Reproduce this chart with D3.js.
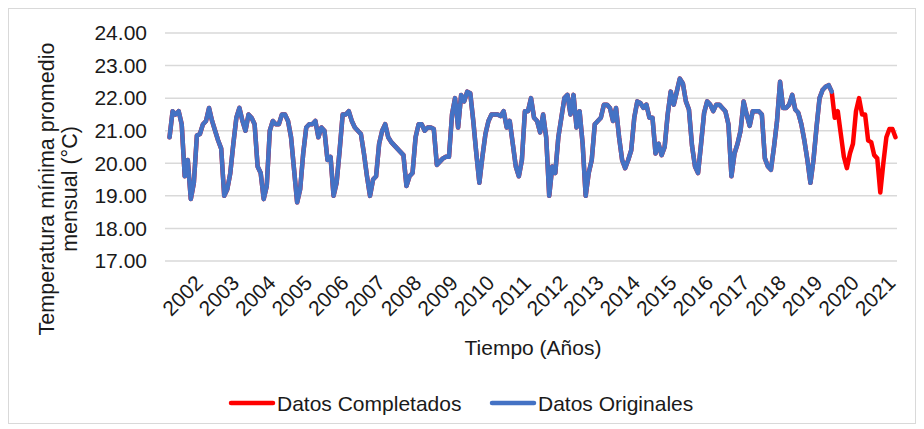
<!DOCTYPE html>
<html lang="es">
<head>
  <meta charset="UTF-8">
  <title>Temperatura mínima promedio mensual</title>
  <script src="https://d3js.org/d3.v7.min.js"></script>
  <style>
    body, html {
      margin: 0;
      padding: 0;
      background-color: #fff;
      overflow: hidden;
    }
    svg text {
      font-family: 'Liberation Sans', Arial, sans-serif;
      fill: #1a1a1a;
    }
    .grid line {
      stroke: #d9d9d9;
      stroke-width: 1.5;
    }
  </style>
</head>
<body>
  <svg class="chart"></svg>

  <script>
    // Monthly values, first one is Feb 2001 (category 0 = Jan 2001 stays empty)
    const datosOriginales = [
      20.8, 21.6, 21.5, 21.6, 21.2, 19.6, 20.1, 18.9, 19.4, 20.85, 20.9, 21.2,
      21.3, 21.7, 21.3, 21.0, 20.7, 20.45, 19.0, 19.2, 19.7, 20.6, 21.4, 21.7,
      21.3, 21.0, 21.5, 21.4, 21.2, 19.9, 19.7, 18.9, 19.3, 21.0, 21.3, 21.2,
      21.2, 21.5, 21.5, 21.3, 20.8, 19.8, 18.8, 19.2, 20.3, 21.1, 21.2, 21.2,
      21.3, 20.8, 21.1, 21.0, 20.1, 20.2, 19.0, 19.4, 20.4, 21.5, 21.5, 21.6,
      21.3, 21.1, 21.0, 20.9, 20.3, 19.6, 19.0, 19.5, 19.6, 20.6, 21.0, 21.2,
      20.8, 20.65, 20.55, 20.45, 20.35, 20.25, 19.3, 19.6, 19.7, 20.8, 21.2, 21.2,
      21.0, 21.1, 21.1, 21.05, 19.95, 20.05, 20.15, 20.2, 20.2, 21.5, 22.0, 21.1,
      22.1, 21.9, 22.2, 22.15, 21.3, 20.3, 19.4, 20.2, 20.9, 21.3, 21.5, 21.5,
      21.5, 21.45, 21.6, 21.1, 21.3, 20.6, 19.9, 19.6, 20.1, 21.6, 21.6, 22.0,
      21.4, 21.3, 20.95, 21.5, 20.8, 19.0, 19.9, 19.7, 20.8, 21.4, 22.0, 22.1,
      21.5, 22.1, 21.1, 21.6, 20.6, 19.0, 19.7, 20.1, 21.2, 21.3, 21.4, 21.8,
      21.8, 21.7, 21.3, 21.7, 20.8, 20.1, 19.85, 20.1, 20.4, 21.4, 21.9, 21.85,
      21.7, 21.8, 21.4, 21.4, 20.3, 20.6, 20.25, 20.5, 21.5, 22.2, 21.8, 22.2,
      22.6, 22.45, 21.9, 21.65, 20.55, 19.9, 19.7, 20.6, 21.55, 21.9, 21.8, 21.6,
      21.8, 21.8, 21.7, 21.6, 21.2, 19.6, 20.3, 20.6, 21.0, 21.9, 21.5, 21.15,
      21.6, 21.6, 21.6, 21.5, 20.15, 19.9, 19.8, 20.5, 21.3, 22.5, 21.7, 21.7,
      21.8, 22.1, 21.65, 21.55, 21.2, 20.7, 20.1, 19.4, 20.1, 21.1, 22.0, 22.25,
      22.35, 22.4, 22.2
    ];

    // Filled-in months after the original record ends
    const datosCompletados = [
      21.4, 21.6, 20.9, 20.2, 19.85, 20.3, 20.6, 21.6, 22.0, 21.5, 21.5,
      20.7, 20.65, 20.25, 20.15, 19.1, 20.0, 20.8, 21.05, 21.05, 20.8
    ];

    const yearLabels = ["2002", "2003", "2004", "2005", "2006", "2007", "2008", "2009", "2010", "2011",
                        "2012", "2013", "2014", "2015", "2016", "2017", "2018", "2019", "2020", "2021"];
    const yTicks = [17, 18, 19, 20, 21, 22, 23, 24];

    const width = 924;
    const height = 429;
    const plot = { left: 165, right: 897, top: 33, bottom: 261 };

    const svg = d3.select("svg")
      .attr("width", width)
      .attr("height", height);

    // chart frame
    svg.append("rect")
      .attr("x", 8.5).attr("y", 8.5)
      .attr("width", 907).attr("height", 415)
      .attr("fill", "none")
      .attr("stroke", "#d9d9d9");

    const nCategories = datosOriginales.length + datosCompletados.length + 1;

    const xScale = d3.scaleLinear()
      .domain([-0.5, nCategories - 0.5])
      .range([plot.left, plot.right]);

    const yScale = d3.scaleLinear()
      .domain([17, 24])
      .range([plot.bottom, plot.top]);

    // horizontal grid
    svg.append("g")
      .attr("class", "grid")
      .selectAll("line")
      .data(yTicks)
      .enter().append("line")
      .attr("x1", plot.left)
      .attr("x2", plot.right)
      .attr("y1", d => yScale(d))
      .attr("y2", d => yScale(d));

    // y axis labels
    const yAxis = d3.axisLeft(yScale)
      .tickValues(yTicks)
      .tickSize(0)
      .tickPadding(0)
      .tickFormat(d3.format(".2f"));

    svg.append("g")
      .attr("transform", "translate(147,0)")
      .call(yAxis)
      .call(g => g.select(".domain").remove())
      .selectAll("text")
      .style("font-size", "21px")
      .attr("font-family", null);

    // x axis: one label per January
    const xAxis = d3.axisBottom(xScale)
      .tickValues(yearLabels.map(y => (+y - 2001) * 12))
      .tickSize(0)
      .tickFormat((d, i) => yearLabels[i]);

    svg.append("g")
      .attr("transform", "translate(0,285)")
      .call(xAxis)
      .call(g => g.select(".domain").remove())
      .selectAll("text")
      .attr("font-family", null)
      .style("font-size", "21px")
      .style("text-anchor", "end")
      .attr("x", 1)
      .attr("y", 0)
      .attr("dy", 0)
      .attr("transform", "rotate(-45)");

    // series: completed series underneath, originals on top
    const serieCompleta = datosOriginales.concat(datosCompletados);

    const line = d3.line()
      .x((d, i) => xScale(i + 1))
      .y(d => yScale(d))
      .curve(d3.curveLinear);

    svg.append("path")
      .datum(serieCompleta)
      .attr("fill", "none")
      .attr("stroke", "#ff0000")
      .attr("stroke-width", 4.5)
      .attr("stroke-linejoin", "round")
      .attr("stroke-linecap", "round")
      .attr("d", line);

    svg.append("path")
      .datum(datosOriginales)
      .attr("fill", "none")
      .attr("stroke", "#4472c4")
      .attr("stroke-width", 4.5)
      .attr("stroke-linejoin", "round")
      .attr("stroke-linecap", "round")
      .attr("d", line);

    // axis titles
    svg.append("text")
      .attr("x", 533)
      .attr("y", 355)
      .attr("text-anchor", "middle")
      .style("font-size", "21px")
      .text("Tiempo (Años)");

    const yTitle = svg.append("text")
      .attr("transform", "translate(0,189) rotate(-90)")
      .attr("text-anchor", "middle")
      .style("font-size", "21.5px");
    yTitle.append("tspan").attr("x", 0).attr("y", 54).text("Temperatura mínima promedio");
    yTitle.append("tspan").attr("x", 0).attr("y", 77).text("mensual (°C)");

    // legend
    const legend = [
      { name: "Datos Completados", color: "#ff0000", x: 231 },
      { name: "Datos Originales", color: "#4472c4", x: 492 }
    ];

    const item = svg.append("g")
      .selectAll("g")
      .data(legend)
      .enter().append("g")
      .attr("transform", d => `translate(${d.x},403)`);

    item.append("line")
      .attr("x1", 0).attr("x2", 42)
      .attr("stroke", d => d.color)
      .attr("stroke-width", 4.5)
      .attr("stroke-linecap", "round");

    item.append("text")
      .attr("x", 46)
      .attr("y", 7.5)
      .style("font-size", "21px")
      .text(d => d.name);
  </script>
</body>
</html>
